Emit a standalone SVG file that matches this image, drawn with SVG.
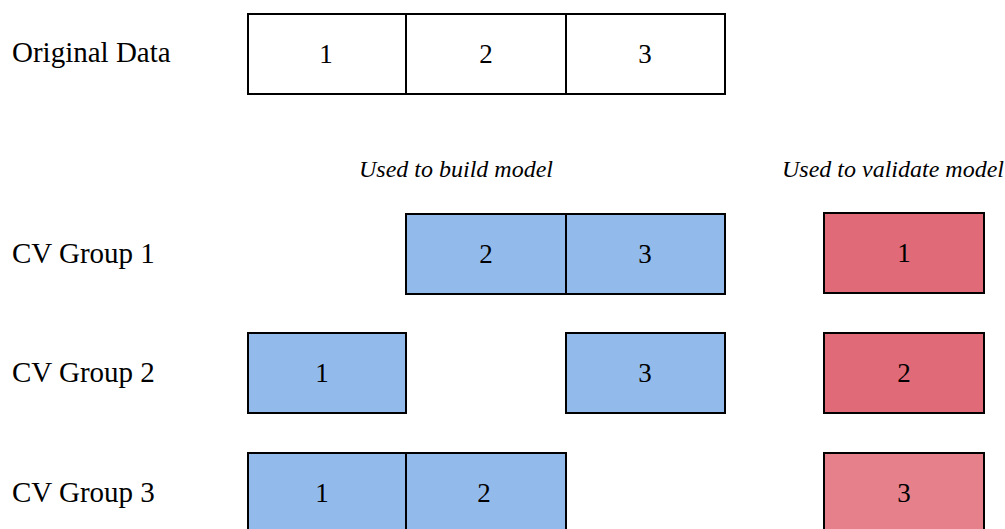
<svg xmlns="http://www.w3.org/2000/svg" width="1005" height="529" viewBox="0 0 1005 529">
<style>
.lbl{font-family:"Liberation Serif","Times New Roman",serif;font-size:29px;fill:#000}
.num{font-family:"Liberation Serif","Times New Roman",serif;font-size:27px;fill:#000;text-anchor:middle}
.hdr{font-family:"Liberation Serif","Times New Roman",serif;font-size:24px;font-style:italic;fill:#000}
.cell{stroke:#000;stroke-width:2}
.white{fill:#fff}
.blue{fill:#92BBEC}
.red{fill:#E06A77}
.red2{fill:#E6818B}
</style>
<rect width="1005" height="529" fill="#fff"/>
<g id="labels">
<text class="lbl" x="12" y="62">Original Data</text>
<text class="lbl" x="12" y="263">CV Group 1</text>
<text class="lbl" x="12" y="382">CV Group 2</text>
<text class="lbl" x="12" y="502">CV Group 3</text>
<text class="hdr" x="359" y="177">Used to build model</text>
<text class="hdr" x="782" y="177">Used to validate model</text>
</g>
<g id="original">
<rect class="cell white" x="248" y="14" width="158" height="80"/>
<rect class="cell white" x="406" y="14" width="160" height="80"/>
<rect class="cell white" x="566" y="14" width="159" height="80"/>
<text class="num" x="326" y="63">1</text>
<text class="num" x="486" y="63">2</text>
<text class="num" x="645" y="63">3</text>
</g>
<g id="cv1">
<rect class="cell blue" x="406" y="214" width="160" height="80"/>
<rect class="cell blue" x="566" y="214" width="159" height="80"/>
<rect class="cell red" x="824" y="213" width="160" height="80"/>
<text class="num" x="486" y="263">2</text>
<text class="num" x="645" y="263">3</text>
<text class="num" x="904" y="262">1</text>
</g>
<g id="cv2">
<rect class="cell blue" x="248" y="333" width="158" height="80"/>
<rect class="cell blue" x="566" y="333" width="159" height="80"/>
<rect class="cell red" x="824" y="333" width="160" height="80"/>
<text class="num" x="322" y="382">1</text>
<text class="num" x="645" y="382">3</text>
<text class="num" x="904" y="382">2</text>
</g>
<g id="cv3">
<rect class="cell blue" x="248" y="453" width="158" height="80"/>
<rect class="cell blue" x="406" y="453" width="160" height="80"/>
<rect class="cell red2" x="824" y="453" width="160" height="80"/>
<text class="num" x="322" y="502">1</text>
<text class="num" x="484" y="502">2</text>
<text class="num" x="904" y="502">3</text>
</g>
<g id="connectors"></g>
</svg>
